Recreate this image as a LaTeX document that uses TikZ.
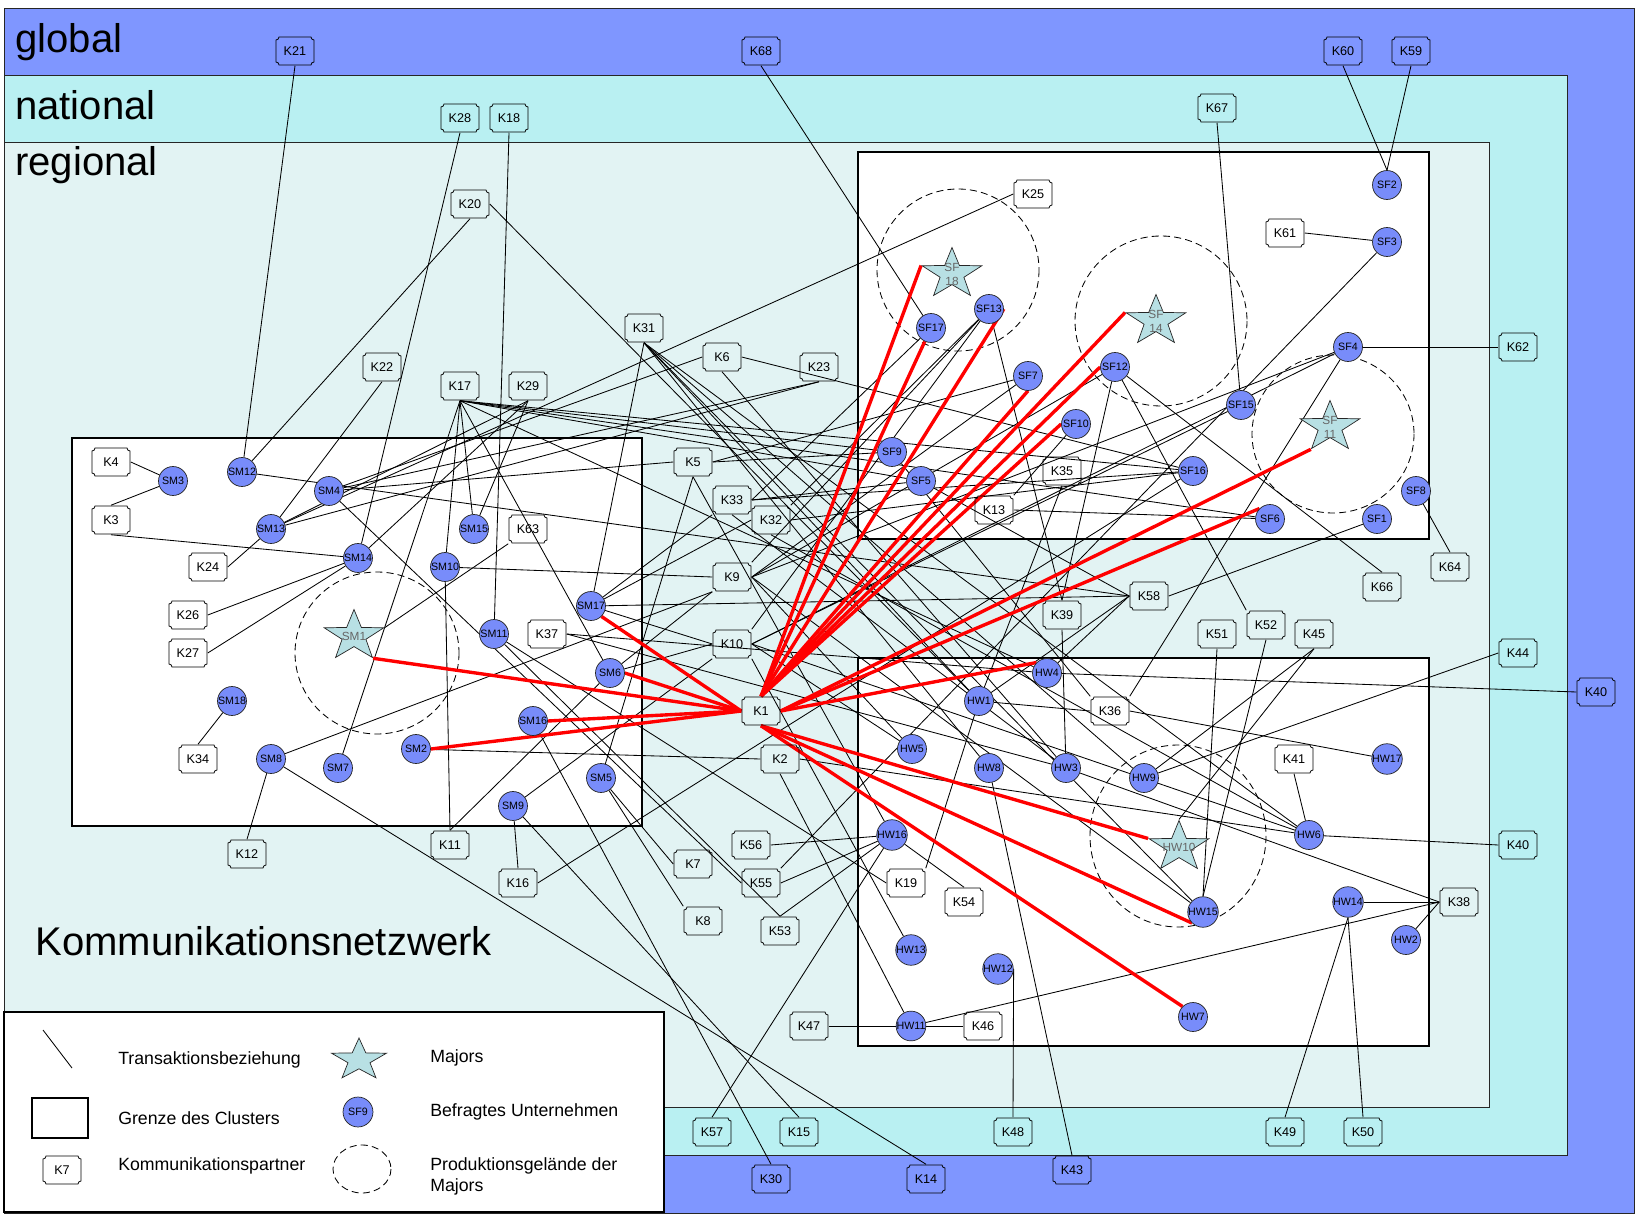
\documentclass[tikz,border=0pt]{standalone}
\usepackage{fontspec}
\setmainfont{Liberation Sans}
\usetikzlibrary{shapes.geometric, positioning}
\definecolor{globalblue}{RGB}{127,150,255}
\definecolor{nationalcyan}{RGB}{185,240,242}
\definecolor{regionalcyan}{RGB}{226,243,243}
\definecolor{firmblue}{RGB}{120,140,250}
\definecolor{majorteal}{RGB}{184,224,228}
\pgfdeclarelayer{bg}
\pgfdeclarelayer{edges}
\pgfsetlayers{bg,edges,main}

% a major firm: stretched star with its label on top
\newcommand{\majorstar}[5][xscale=1.18]{%
  \begin{scope}[shift={(#3,#4)}, #1]
    \node[starshape] (#2) at (0,0) {};
  \end{scope}
  \node[starlabel] (#2t) at (#2.center) {#5};
}

\begin{document}
\begin{tikzpicture}[
    x=0.25mm, y=-0.25mm,
    kbox/.style={rectangle, minimum width=27.7pt, minimum height=20.6pt, inner sep=0pt,
                 font=\fontsize{9}{10}\selectfont,
                 path picture={\draw[line width=0.55pt]
                   ([shift={(-11.35pt,10pt)}]path picture bounding box.center) -- ++(22.7pt,0)
                   arc[start angle=180, end angle=270, radius=2.2pt] -- ++(0,-15.6pt)
                   arc[start angle=90, end angle=180, radius=2.2pt] -- ++(-22.7pt,0)
                   arc[start angle=0, end angle=90, radius=2.2pt] -- ++(0,15.6pt)
                   arc[start angle=270, end angle=360, radius=2.2pt] -- cycle;}},
    firm/.style={circle, draw=black!85, line width=0.5pt, fill=firmblue, minimum size=20.6pt,
                 inner sep=0pt, font=\fontsize{7.6}{8}\selectfont},
    starshape/.style={star, star points=5, star point ratio=2.5, minimum size=37.7pt, inner sep=0pt,
                      draw=black!85, line width=0.5pt, fill=majorteal, transform shape},
    starlabel/.style={align=center, inner sep=0pt, font=\fontsize{8.4}{10}\selectfont, text=black!60},
    link/.style={line width=0.6pt},
    major/.style={draw=red, line width=2.4pt},
    cluster/.style={draw=black, line width=1.3pt, fill=white},
    site/.style={dash pattern=on 5pt off 3pt, line width=0.6pt},
    band/.style={draw=black!85, line width=0.7pt},
    bandlabel/.style={anchor=base west, inner sep=0pt, font=\fontsize{28.5}{32}\selectfont},
    legendtext/.style={anchor=west, inner sep=0pt, align=left, font=\fontsize{12.6}{15}\selectfont}
]
    \path[use as bounding box] (0,0) rectangle (1640,1216);
    \begin{pgfonlayer}{bg}
    % layers
    \filldraw[band, fill=globalblue] (4,8) rectangle (1634,1213);
    \filldraw[band, fill=nationalcyan] (4,75) rectangle (1567,1155);
    \filldraw[band, fill=regionalcyan] (4,142) rectangle (1489,1107);
    % clusters
    \filldraw[cluster] (858,152) rectangle (1429,539);
    \filldraw[cluster] (72,438) rectangle (642,826);
    \filldraw[cluster] (858,658) rectangle (1429,1046);
    % production sites of the majors
    \draw[site] (958,270) ellipse [x radius=81, y radius=81];
    \draw[site] (1161,321) ellipse [x radius=86, y radius=85];
    \draw[site] (1333,434) ellipse [x radius=81, y radius=79];
    \draw[site] (1178,836) ellipse [x radius=88, y radius=91];
    \draw[site] (377,653) ellipse [x radius=82, y radius=81];
    \end{pgfonlayer}

    \node[bandlabel] (lglobal) at (15,53) {global};
    \node[bandlabel] (lnational) at (15,120) {national};
    \node[bandlabel] (lregional) at (15,176) {regional};
    \node[bandlabel] (lnetz) at (35,955) {Kommunikationsnetzwerk};

    % surveyed firms, cluster SF
    \node[firm] (sf1) at (1377,519) {SF1};
    \node[firm] (sf2) at (1387,185) {SF2};
    \node[firm] (sf3) at (1387,242) {SF3};
    \node[firm] (sf4) at (1348,347) {SF4};
    \node[firm] (sf5) at (921,481) {SF5};
    \node[firm] (sf6) at (1270,519) {SF6};
    \node[firm] (sf7) at (1028,376) {SF7};
    \node[firm] (sf8) at (1416,491) {SF8};
    \node[firm] (sf9) at (892,452) {SF9};
    \node[firm] (sf10) at (1076,424) {SF10};
    \node[firm] (sf12) at (1115,367) {SF12};
    \node[firm] (sf13) at (989,309) {SF13};
    \node[firm] (sf15) at (1241,405) {SF15};
    \node[firm] (sf16) at (1193,471) {SF16};
    \node[firm] (sf17) at (931,328) {SF17};
    \majorstar{sf18}{952}{274}{SF\\18}
    \majorstar{sf14}{1156}{321}{SF\\14}
    \majorstar{sf11}{1330}{427}{SF\\11}

    % surveyed firms, cluster SM
    \majorstar{sm1}{354}{636}{SM1}
    \node[firm] (sm2) at (416,749) {SM2};
    \node[firm] (sm3) at (173,481) {SM3};
    \node[firm] (sm4) at (329,491) {SM4};
    \node[firm] (sm5) at (601,778) {SM5};
    \node[firm] (sm6) at (610,673) {SM6};
    \node[firm] (sm7) at (338,768) {SM7};
    \node[firm] (sm8) at (271,759) {SM8};
    \node[firm] (sm9) at (513,806) {SM9};
    \node[firm] (sm10) at (445,567) {SM10};
    \node[firm] (sm11) at (494,634) {SM11};
    \node[firm] (sm12) at (242,472) {SM12};
    \node[firm] (sm13) at (271,529) {SM13};
    \node[firm] (sm14) at (358,558) {SM14};
    \node[firm] (sm15) at (474,529) {SM15};
    \node[firm] (sm16) at (533,721) {SM16};
    \node[firm] (sm17) at (591,606) {SM17};
    \node[firm] (sm18) at (232,701) {SM18};

    % surveyed firms, cluster HW
    \node[firm] (hw1) at (979,701) {HW1};
    \node[firm] (hw2) at (1406,940) {HW2};
    \node[firm] (hw3) at (1066,768) {HW3};
    \node[firm] (hw4) at (1047,673) {HW4};
    \node[firm] (hw5) at (912,749) {HW5};
    \node[firm] (hw6) at (1309,835) {HW6};
    \node[firm] (hw7) at (1193,1017) {HW7};
    \node[firm] (hw8) at (989,768) {HW8};
    \node[firm] (hw9) at (1144,778) {HW9};
    \majorstar{hw10}{1179}{847}{HW10}
    \node[firm] (hw11) at (911,1026) {HW11};
    \node[firm] (hw12) at (998,969) {HW12};
    \node[firm] (hw13) at (911,950) {HW13};
    \node[firm] (hw14) at (1348,902) {HW14};
    \node[firm] (hw15) at (1203,912) {HW15};
    \node[firm] (hw16) at (892,835) {HW16};
    \node[firm] (hw17) at (1387,759) {HW17};

    % communication partners
    \node[kbox] (k1) at (761,711) {K1};
    \node[kbox] (k2) at (780,759) {K2};
    \node[kbox] (k3) at (111,520) {K3};
    \node[kbox] (k4) at (111,462) {K4};
    \node[kbox] (k5) at (693,462) {K5};
    \node[kbox] (k6) at (722,357) {K6};
    \node[kbox] (k7) at (693,864) {K7};
    \node[kbox] (k8) at (703,921) {K8};
    \node[kbox] (k9) at (732,577) {K9};
    \node[kbox] (k10) at (732,644) {K10};
    \node[kbox] (k11) at (450,845) {K11};
    \node[kbox] (k12) at (247,854) {K12};
    \node[kbox] (k13) at (994,510) {K13};
    \node[kbox] (k14) at (926,1179) {K14};
    \node[kbox] (k15) at (799,1132) {K15};
    \node[kbox] (k16) at (518,883) {K16};
    \node[kbox] (k17) at (460,386) {K17};
    \node[kbox] (k18) at (509,118) {K18};
    \node[kbox] (k19) at (906,883) {K19};
    \node[kbox] (k20) at (470,204) {K20};
    \node[kbox] (k21) at (295,51) {K21};
    \node[kbox] (k22) at (382,367) {K22};
    \node[kbox] (k23) at (819,367) {K23};
    \node[kbox] (k24) at (208,567) {K24};
    \node[kbox] (k25) at (1033,194) {K25};
    \node[kbox] (k26) at (188,615) {K26};
    \node[kbox] (k27) at (188,653) {K27};
    \node[kbox] (k28) at (460,118) {K28};
    \node[kbox] (k29) at (528,386) {K29};
    \node[kbox] (k30) at (771,1179) {K30};
    \node[kbox] (k31) at (644,328) {K31};
    \node[kbox] (k32) at (771,520) {K32};
    \node[kbox] (k33) at (732,500) {K33};
    \node[kbox] (k34) at (198,759) {K34};
    \node[kbox] (k35) at (1062,471) {K35};
    \node[kbox] (k36) at (1110,711) {K36};
    \node[kbox] (k37) at (547,634) {K37};
    \node[kbox] (k38) at (1459,902) {K38};
    \node[kbox] (k39) at (1062,615) {K39};
    \node[kbox] (k40) at (1518,845) {K40};
    \node[kbox] (k40g) at (1596,692) {K40};
    \node[kbox] (k41) at (1294,759) {K41};
    \node[kbox] (k43) at (1072,1170) {K43};
    \node[kbox] (k44) at (1518,653) {K44};
    \node[kbox] (k45) at (1314,634) {K45};
    \node[kbox] (k46) at (983,1026) {K46};
    \node[kbox] (k47) at (809,1026) {K47};
    \node[kbox] (k48) at (1013,1132) {K48};
    \node[kbox] (k49) at (1285,1132) {K49};
    \node[kbox] (k50) at (1363,1132) {K50};
    \node[kbox] (k51) at (1217,634) {K51};
    \node[kbox] (k52) at (1266,625) {K52};
    \node[kbox] (k53) at (780,931) {K53};
    \node[kbox] (k54) at (964,902) {K54};
    \node[kbox] (k55) at (761,883) {K55};
    \node[kbox] (k56) at (751,845) {K56};
    \node[kbox] (k57) at (712,1132) {K57};
    \node[kbox] (k58) at (1149,596) {K58};
    \node[kbox] (k59) at (1411,51) {K59};
    \node[kbox] (k60) at (1343,51) {K60};
    \node[kbox] (k61) at (1285,233) {K61};
    \node[kbox] (k62) at (1518,347) {K62};
    \node[kbox] (k63) at (528,529) {K63};
    \node[kbox] (k64) at (1450,567) {K64};
    \node[kbox] (k66) at (1382,587) {K66};
    \node[kbox] (k67) at (1217,108) {K67};
    \node[kbox] (k68) at (761,51) {K68};

    \begin{pgfonlayer}{edges}
    % transactions, cluster SM
    \draw[link] (k21.south) -- (sm12);
    \draw[link] (k20.south) -- (sm12);
    \draw[link] (sm12) -- (k58.west);
    \draw[link] (k4.east) -- (sm3);
    \draw[link] (sm3) -- (k3.north);
    \draw[link] (k3.south) -- (sm14);
    \draw[link] (k26.east) -- (sm14);
    \draw[link] (k27.east) -- (sm14);
    \draw[link] (k28.south) -- (sm14);
    \draw[link] (k29.south) -- (sm14);
    \draw[link] (k22.south) -- (sm13);
    \draw[link] (k24.east) -- (sm13);
    \draw[link] (k25.west) -- (sm13);
    \draw[link] (k23.south) -- (sm13);
    \draw[link] (k29.south) -- (sm13);
    \draw[link] (k6.west) -- (sm4);
    \draw[link] (k23.south) -- (sm4);
    \draw[link] (k5.west) -- (sm4);
    \draw[link] (sm4) -- (k55.west);
    \draw[link] (k18.south) -- (sm11);
    \draw[link] (sm11) -- (k19.west);
    \draw[link] (sm11) -- (k53.north);
    \draw[link] (k17.south) -- (sm10);
    \draw[link] (k17.south) -- (sm15);
    \draw[link] (k29.south) -- (sm15);
    \draw[link] (k17.south) -- (sm7);
    \draw[link] (k17.south) -- (sm6);
    \draw[link] (sm10) -- (k9.west);
    \draw[link] (k11.north) -- (sm10);
    \draw[link] (k11.north) -- (sm6);
    \draw[link] (sm6) -- (k10.west);
    \draw[link] (sm6) -- (k9.south west);
    \draw[link] (k63.south west) -- (sm1.outer point 5);
    \draw[link] (sm18) -- (k34.north);
    \draw[link] (sm8) -- (k12.north);
    \draw[link] (sm8) -- (k14.north);
    \draw[link] (sm8) -- (k9.south west);
    \draw[link] (k31.south) -- (sm17);
    \draw[link] (sm17) -- (k58.west);
    \draw[link] (sm17) -- (k33.south west);
    \draw[link] (sm17) -- (k32.west);
    \draw[link] (sm17) -- (k10.west);
    \draw[link] (sm9) -- (k16.north);
    \draw[link] (sm9) -- (k15.north);
    \draw[link] (sm9) -- (k10.south west);
    \draw[link] (sm16) -- (k30.north);
    \draw[link] (sm5) -- (k5.south);
    \draw[link] (sm5) -- (k7.west);
    \draw[link] (sm5) -- (k8.north west);
    \draw[link] (sm2) -- (k2.west);
    \draw[link] (k37.east) -- (hw4);
    \draw[link] (k37.east) -- (hw3);

    % transactions, cluster SF
    \draw[link] (k68.south) -- (sf17);
    \draw[link] (k60.south) -- (sf2.north);
    \draw[link] (k59.south) -- (sf2.north);
    \draw[link] (k61.east) -- (sf3);
    \draw[link] (sf3) -- (k55.north east);
    \draw[link] (sf4) -- (k62.west);
    \draw[link] (sf4) -- (k36.north east);
    \draw[link] (sf4) -- (k9.east);
    \draw[link] (sf4) -- (k10.east);
    \draw[link] (k67.south) -- (sf15);
    \draw[link] (sf15) -- (k10.east);
    \draw[link] (sf8) -- (k64.north);
    \draw[link] (sf1) -- (k58.east);
    \draw[link] (sf12) -- (k66.north);
    \draw[link] (sf12) -- (k52.north west);
    \draw[link] (sf12) -- (k39.north);
    \draw[link] (sf12) -- (k9.east);
    \draw[link] (sf13) -- (k39.north);
    \draw[link] (sf13) -- (k9.north east);
    \draw[link] (sf13) -- (k10.north east);
    \draw[link] (sf13) -- (k32.north east);
    \draw[link] (sf17) -- (k33.east);
    \draw[link] (sf7) -- (k5.east);
    \draw[link] (sf7) -- (k9.east);
    \draw[link] (sf10) -- (k13.north east);
    \draw[link] (sf9) -- (k17.south);
    \draw[link] (sf9) -- (k36.north west);
    \draw[link] (sf5) -- (k33.east);
    \draw[link] (sf5) -- (k58.west);
    \draw[link] (sf5) -- (k17.south);
    \draw[link] (sf16) -- (k6.east);
    \draw[link] (sf16) -- (k17.south);
    \draw[link] (sf16) -- (k33.east);
    \draw[link] (sf16) -- (k32.east);
    \draw[link] (sf16) -- (k16.east);
    \draw[link] (sf6) -- (k13.east);
    \draw[link] (sf6) -- (k17.south);
    \draw[link] (k5.east) -- (sf9);

    % transactions, cluster HW
    \draw[link] (k20.east) -- (hw1);
    \draw[link] (k31.south) -- (hw1);
    \draw[link] (k31.south) -- (hw8);
    \draw[link] (k31.south) -- (hw9);
    \draw[link] (k31.south) -- (hw15);
    \draw[link] (k31.south) -- (hw6);
    \draw[link] (k6.south) -- (hw3);
    \draw[link] (k17.south) -- (hw4);
    \draw[link] (k5.south) -- (hw16);
    \draw[link] (k33.south) -- (hw3);
    \draw[link] (k32.south) -- (hw6);
    \draw[link] (k9.east) -- (hw5);
    \draw[link] (k9.east) -- (hw15);
    \draw[link] (k10.east) -- (hw6);
    \draw[link] (k10.south east) -- (hw13);
    \draw[link] (k10.east) -- (hw5);
    \draw[link] (k35.south) -- (hw1);
    \draw[link] (k36.west) -- (hw1);
    \draw[link] (hw1) -- (k19.north east);
    \draw[link] (k58.west) -- (hw1);
    \draw[link] (k58.west) -- (hw4);
    \draw[link] (k39.south) -- (hw3);
    \draw[link] (hw3) -- (k38.west);
    \draw[link] (hw8) -- (k43.north);
    \draw[link] (k40g.west) -- (hw4);
    \draw[link] (k36.east) -- (hw17);
    \draw[link] (k45.south) -- (hw9);
    \draw[link] (k45.south) -- (hw10.outer point 1);
    \draw[link] (k44.west) -- (hw9);
    \draw[link] (k52.south) -- (hw15.north);
    \draw[link] (k51.south) -- (hw15.north);
    \draw[link] (k41.south) -- (hw6);
    \draw[link] (hw6) -- (k40.west);
    \draw[link] (k2.east) -- (hw6);
    \draw[link] (k2.south) -- (hw11);
    \draw[link] (k38.west) -- (hw14);
    \draw[link] (k38.west) -- (hw2);
    \draw[link] (k38.west) -- (hw11);
    \draw[link] (hw14.south) -- (k49.north);
    \draw[link] (hw14.south) -- (k50.north);
    \draw[link] (k47.east) -- (hw11);
    \draw[link] (hw11) -- (k46.west);
    \draw[link] (hw12.east) -- (k48.north);
    \draw[link] (k56.east) -- (hw16);
    \draw[link] (k55.east) -- (hw16);
    \draw[link] (k53.north) -- (hw16);
    \draw[link] (k57.north) -- (hw16);
    \draw[link] (hw16) -- (k54.north);

    % transactions of K1 with the majors
    \draw[major] (k1.north) -- (sf18.outer point 2);
    \draw[major] (k1.north) -- (sf17);
    \draw[major] (k1.north) -- (sf13.east);
    \draw[major] (k1.north) -- (sf7.south);
    \draw[major] (k1.north) -- (sf14.outer point 2);
    \draw[major] (k1.north) -- (sf12.west);
    \draw[major] (k1.north) -- (sf10.west);
    \draw[major] (k1.east) -- (sf11.outer point 3);
    \draw[major] (k1.east) -- (sf6.north west);
    \draw[major] (k1.east) -- (hw4.north west);
    \draw[major] (k1.south) -- (hw10.outer point 2);
    \draw[major] (k1.south) -- (hw15.south west);
    \draw[major] (k1.south) -- (hw7.north west);
    \draw[major] (k1.west) -- (sm1.outer point 4);
    \draw[major] (k1.west) -- (sm17.south east);
    \draw[major] (k1.west) -- (sm6.east);
    \draw[major] (k1.west) -- (sm16.east);
    \draw[major] (k1.west) -- (sm2.east);
    \end{pgfonlayer}

    % legend
    \begin{pgfonlayer}{bg}
    \filldraw[draw=black, line width=1pt, fill=white] (4,1012) rectangle (664,1212);
    \draw[link] (43,1030) -- (72,1068);
    \draw[line width=1.4pt] (32,1098) rectangle (88,1138);
    \draw[site] (362,1169) ellipse [x radius=29, y radius=24];
    \end{pgfonlayer}
    \node[kbox] (klegend) at (62,1170) {K7};
    \majorstar[xscale=1.09, yscale=0.83]{lgstar}{359}{1060}{}
    \node[firm, minimum size=21.3pt] (sflegend) at (358,1112) {SF9};
    \node[legendtext] (ltrans) at (118,1060) {Transaktionsbeziehung};
    \node[legendtext] (lcluster) at (118,1118) {Grenze des Clusters};
    \node[legendtext] (lpartner) at (118,1166) {Kommunikationspartner};
    \node[legendtext] (lmajor) at (430,1058) {Majors};
    \node[legendtext] (lfirm) at (430,1112) {Befragtes Unternehmen};
    \node[legendtext] (lsite) at (430,1176) {Produktionsgelände der\\Majors};
\end{tikzpicture}
\end{document}
